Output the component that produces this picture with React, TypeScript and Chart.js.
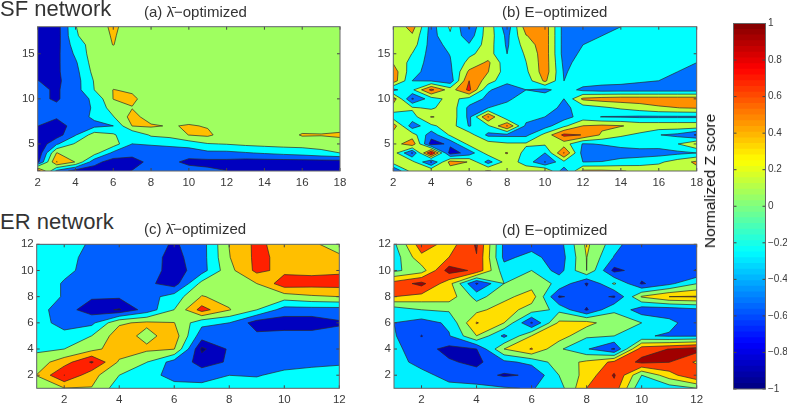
import React, { useEffect, useRef } from "react";
import { Chart, registerables } from "chart.js";
Chart.register(...registerables);

const sfAxis = [2, 3, 4, 5, 6, 7, 8, 9, 10, 11, 12, 13, 14, 15, 16, 17, 18];
const sfRows = [18, 17, 16, 15, 14, 13, 12, 11, 10, 9, 8, 7, 6, 5, 4, 3, 2];
const erAxis = [1, 2, 3, 4, 5, 6, 7, 8, 9, 10, 11, 12];
const erRows = [12, 11, 10, 9, 8, 7, 6, 5, 4, 3, 2, 1];
const sfTicksX = [2, 4, 6, 8, 10, 12, 14, 16, 18];
const sfTicksY = [5, 10, 15];
const erTicksX = [2, 4, 6, 8, 10, 12];
const erTicksY = [2, 4, 6, 8, 10, 12];
const barTicks = [-1, -0.8, -0.6, -0.4, -0.2, 0, 0.2, 0.4, 0.6, 0.8, 1];
const levels = [-0.714, -0.429, -0.143, 0.143, 0.429, 0.714];
const levelsC = [-0.93, -0.714, -0.429, -0.143, 0.143, 0.429, 0.714];

const coloursA = ["#0000bf", "#0060ff", "#00ffff", "#9fff60", "#ffbf00", "#ff2000", "#800000"];
const coloursB = ["#0000cf", "#0070ff", "#00ffff", "#bfff40", "#ff9000", "#ff1000", "#900000"];
const coloursC = ["#00007f", "#0000bf", "#0060ff", "#00ffff", "#9fff60", "#ffbf00", "#ff2000", "#800000"];
const coloursD = ["#0000b0", "#0050ff", "#00f0ff", "#8fff70", "#ffdf00", "#ff4000", "#a00000"];

const zA = [
  [-.9,-.85,-.15,0,.2,0,0,0,0,0,0,0,0,0,0,0,0],
  [-.9,-.85,-.17,0,.17,0,0,0,0,0,0,0,0,0,0,0,0],
  [-.9,-.82,-.28,-.02,.15,0,0,0,0,0,0,0,0,0,0,0,0],
  [-.9,-.79,-.38,.02,0,0,0,0,0,0,0,0,0,0,0,0,0],
  [-.9,-.77,-.47,0,0,0,0,0,0,0,0,0,0,0,0,0,0],
  [-.9,-.76,-.52,-.05,0,0,0,0,0,0,0,0,0,0,0,0,0],
  [-.71,-.77,-.55,-.12,0,0,0,0,0,0,0,0,0,0,0,0,0],
  [-.65,-.75,-.55,-.14,.15,.1,0,0,0,0,0,0,0,0,0,0,0],
  [-.65,-.75,-.55,-.38,.15,.2,0,0,0,0,0,0,0,0,0,0,0],
  [-.6,-.65,-.55,-.4,0,.13,0,0,0,0,0,0,0,0,0,0,0],
  [-.6,-.68,-.55,-.38,-.16,.25,0,0,0,0,0,0,0,0,0,0,0],
  [-.71,-.85,-.6,-.5,-.43,.15,.18,.12,.17,.12,0,0,0,0,0,0,0],
  [-.9,-.85,-.45,0,-.1,-.4,-.1,-.05,.15,.2,0,0,0,0,.17,.16,.2],
  [-.95,-.47,-.1,.05,0,-.43,-.4,-.36,-.3,-.16,-.13,-.08,-.05,-.03,-.03,-.02,0],
  [-.95,.15,.02,-.03,-.5,-.6,-.6,-.6,-.6,-.5,-.5,-.45,-.4,-.35,-.3,-.22,-.143],
  [-.8,.44,.13,-.62,-.85,-.85,-.62,-.65,-.78,-.8,-.8,-.85,-.85,-.85,-.85,-.85,-.85],
  [.6,-.5,-.85,-.85,-.9,-.7,-.55,-.55,-.6,-.65,-.71,-.85,-.85,-.85,-.85,-.85,-.85],
];
const zB = [
  [-.1,.27,-.55,-.1,-.75,.05,-.6,.3,.3,-.55,-.55,-.55,-.43,-.3,-.3,-.3,-.3],
  [0,.1,-.55,-.18,-.6,.03,-.5,.13,.3,-.55,-.55,-.43,-.3,-.3,-.3,-.3,-.3],
  [.1,0,-.55,-.35,-.4,0,-.47,0,.3,-.55,-.43,-.35,-.3,-.3,-.3,-.3,-.3],
  [.1,-.15,-.55,-.42,-.2,-.02,-.43,-.1,.3,-.55,-.38,-.3,-.29,-.29,-.29,-.29,-.29],
  [.12,-.25,-.55,-.45,-.05,.2,-.35,-.15,.3,-.5,-.33,-.29,-.29,-.29,-.29,-.35,-.43],
  [.3,-.33,-.55,-.5,.2,.15,-.3,-.2,.3,-.46,-.3,-.29,-.29,-.29,-.32,-.43,-.55],
  [.3,-.43,-.45,-.6,.43,0,-.37,-.3,.2,-.43,-.29,-.32,-.35,-.4,-.43,-.55,-.6],
  [-.5,-.2,.5,0,.5,-.4,-.55,-.43,-.5,-.29,-.5,-.55,-.55,-.55,-.55,-.55,-.55],
  [.3,-.75,-.27,-.05,-.25,-.5,-.5,-.25,-.29,-.43,.2,.27,.3,.3,.3,.3,.3],
  [0,-.1,-.2,.05,-.5,-.43,-.3,-.29,-.3,-.5,-.3,-.2,-.1,0,.1,.14,.17],
  [-.29,-.25,.16,.05,-.5,.45,-.4,-.3,-.43,-.55,-.3,-.44,-.45,-.47,-.47,-.47,-.47],
  [.3,-.6,-.2,0,-.45,-.2,.45,-.5,-.55,-.2,.15,.2,.16,.05,.05,.05,.05],
  [0,0,-.6,-.1,0,-.5,-.5,-.5,-.05,.5,.42,.1,-.1,-.2,-.42,-.5,-.75],
  [0,.33,-.85,-.65,-.05,0,-.1,-.1,-.1,0,-.45,-.41,-.35,-.29,-.3,-.15,.15],
  [0,-.75,.75,-.85,-.6,0,.16,-.25,-.43,.45,-.55,-.6,-.55,-.55,-.55,-.5,-.43],
  [0,-.05,-.75,.25,.13,-.55,0,-.25,-.73,-.2,-.43,-.42,-.35,-.3,-.2,0,.2],
  [-.75,0,.1,0,0,.17,0,0,.15,-.6,.2,.2,.16,.1,.05,.05,.05],
];
const zC = [
  [-.29,-.29,-.47,-.57,-.57,-.75,-.55,.15,.5,.3,.2,0],
  [-.29,-.3,-.55,-.57,-.6,-.8,-.55,.13,.5,.35,.3,.2],
  [-.29,-.38,-.5,-.57,-.55,-.85,-.55,.05,.5,.35,.35,.38],
  [-.29,-.45,-.55,-.6,-.65,-.85,-.05,0,.143,.6,.55,.55],
  [-.29,-.45,-.68,-.68,-.55,-.3,.16,.05,.1,0,.1,.143],
  [-.3,-.6,-.85,-.95,-.6,-.14,.55,.16,-.14,-.55,-.55,-.55],
  [-.35,-.5,-.5,.1,.2,.15,-.35,-.43,-.85,-.87,-.87,-.75],
  [-.3,-.37,-.14,.3,.05,.3,-.6,-.65,-.65,-.6,-.6,-.6],
  [-.2,-.143,.05,.3,.2,.15,-.98,-.68,-.6,-.6,-.6,-.6],
  [0,.3,.75,.1,-.14,-.55,-.8,-.69,-.6,-.55,-.5,-.47],
  [.15,.72,.25,-.143,-.3,-.55,-.6,-.43,-.45,-.35,-.32,-.3],
  [0,.13,.13,-.3,-.3,-.3,-.3,-.29,-.29,-.29,-.29,-.29],
];
const zD = [
  [-.2,.6,.3,.75,-.5,-.55,-.55,.2,-.3,-.72,-.57,-.57],
  [-.3,.35,.43,.7,-.5,-.33,-.6,.15,-.45,-.57,-.57,-.57],
  [-.2,0,.85,.65,-.3,-.143,-.55,.143,-.8,-.57,-.57,-.73],
  [.55,.8,.25,-.75,-.143,0,-.2,-.75,-.1,-.75,-.5,-.15],
  [.43,.33,.3,-.25,.05,.3,-.75,-.57,-.75,.17,.43,.45],
  [-.3,-.143,-.1,.05,.3,0,-.22,-.75,-.17,-.6,-.6,-.5],
  [-.43,-.55,-.38,.45,.143,-.75,.2,.25,-.05,-.143,-.35,-.6],
  [-.4,-.725,-.45,.14,-.5,.15,.3,-.1,-.143,-.4,-.46,-.45],
  [-.35,-.6,-.8,-.72,.143,.45,-.1,-.4,-.75,.6,.72,.85],
  [-.29,-.55,-.68,-.78,-.5,-.35,0,.2,.5,.78,.72,.38],
  [-.29,-.32,-.55,-.6,-.75,-.68,-.14,.25,.75,-.143,.3,.72],
  [-.29,-.29,-.32,-.35,-.4,-.45,-.28,.43,.6,-.4,-.3,-.15],
];

const FONT = '"Liberation Sans", Arial, sans-serif';
const INK = "#3a3a3a";

type Pt = [number, number];

function clipCell(c: { p: Pt; v: number }[], lv: number, avg: number) {
  const cross = (a: { p: Pt; v: number }, b: { p: Pt; v: number }): Pt => {
    const t = (lv - a.v) / (b.v - a.v);
    return [a.p[0] + t * (b.p[0] - a.p[0]), a.p[1] + t * (b.p[1] - a.p[1])];
  };
  const inside = c.map((k) => k.v >= lv);
  const crossings: Pt[] = [];
  for (let i = 0; i < 4; i++) if (inside[i] !== inside[(i + 1) % 4]) crossings.push(cross(c[i], c[(i + 1) % 4]));
  const polys: Pt[][] = [];
  const segs: [Pt, Pt][] = [];
  if (crossings.length === 0) {
    if (inside[0]) polys.push(c.map((k) => k.p));
    return { polys, segs };
  }
  if (crossings.length === 4 && avg < lv) {
    for (let i = 0; i < 4; i++) {
      if (!inside[i]) continue;
      const a = c[i], n = c[(i + 1) % 4], m = c[(i + 3) % 4];
      const p1 = cross(m, a), p2 = cross(a, n);
      polys.push([p1, a.p, p2]);
      segs.push([p1, p2]);
    }
    return { polys, segs };
  }
  const poly: Pt[] = [];
  const order: Pt[] = [];
  for (let i = 0; i < 4; i++) {
    const a = c[i], b = c[(i + 1) % 4];
    if (inside[i]) poly.push(a.p);
    if (inside[i] !== inside[(i + 1) % 4]) {
      const q = cross(a, b);
      poly.push(q);
      order.push(q);
    }
  }
  polys.push(poly);
  if (order.length === 2) segs.push([order[0], order[1]]);
  else if (inside[0]) {
    segs.push([order[0], order[1]]);
    segs.push([order[2], order[3]]);
  } else {
    segs.push([order[3], order[0]]);
    segs.push([order[1], order[2]]);
  }
  return { polys, segs };
}

function contourPlugin(xs: number[], ys: number[], z: number[][], lv: number[], colours: string[]) {
  return {
    id: "contour",
    beforeDatasetsDraw(chart: any) {
      const { ctx, chartArea: A, scales } = chart;
      const X = (v: number) => scales.x.getPixelForValue(v);
      const Y = (v: number) => scales.y.getPixelForValue(v);
      ctx.save();
      ctx.beginPath();
      ctx.rect(A.left, A.top, A.right - A.left, A.bottom - A.top);
      ctx.clip();
      ctx.fillStyle = colours[0];
      ctx.fillRect(A.left, A.top, A.right - A.left, A.bottom - A.top);
      const lines: [Pt, Pt][] = [];
      lv.forEach((L, li) => {
        const path = new Path2D();
        for (let r = 0; r < ys.length - 1; r++) {
          for (let k = 0; k < xs.length - 1; k++) {
            const c = [
              { p: [X(xs[k]), Y(ys[r])] as Pt, v: z[r][k] },
              { p: [X(xs[k + 1]), Y(ys[r])] as Pt, v: z[r][k + 1] },
              { p: [X(xs[k + 1]), Y(ys[r + 1])] as Pt, v: z[r + 1][k + 1] },
              { p: [X(xs[k]), Y(ys[r + 1])] as Pt, v: z[r + 1][k] },
            ];
            const avg = (c[0].v + c[1].v + c[2].v + c[3].v) / 4;
            const { polys, segs } = clipCell(c, L, avg);
            polys.forEach((poly) => {
              poly.forEach((q, i) => (i ? path.lineTo(q[0], q[1]) : path.moveTo(q[0], q[1])));
              path.closePath();
            });
            lines.push(...segs);
          }
        }
        ctx.fillStyle = colours[li + 1];
        ctx.fill(path);
      });
      ctx.strokeStyle = "#2a2a2a";
      ctx.lineWidth = 0.7;
      ctx.beginPath();
      lines.forEach(([a, b]) => {
        ctx.moveTo(a[0], a[1]);
        ctx.lineTo(b[0], b[1]);
      });
      ctx.stroke();
      ctx.restore();
    },
  };
}

const framePlugin = {
  id: "frame",
  afterDraw(chart: any) {
    const { ctx, chartArea: A, scales } = chart;
    ctx.save();
    ctx.strokeStyle = "#444";
    ctx.lineWidth = 1;
    ctx.beginPath();
    if (scales.x.type !== "category") {
      scales.x.ticks.forEach((t: any) => {
        const p = scales.x.getPixelForValue(t.value);
        ctx.moveTo(p, A.bottom);
        ctx.lineTo(p, A.bottom - 3);
        ctx.moveTo(p, A.top);
        ctx.lineTo(p, A.top + 3);
      });
    }
    scales.y.ticks.forEach((t: any) => {
      const p = scales.y.getPixelForValue(t.value);
      ctx.moveTo(A.left, p);
      ctx.lineTo(A.left + 3, p);
      ctx.moveTo(A.right, p);
      ctx.lineTo(A.right - 3, p);
    });
    ctx.stroke();
    ctx.strokeStyle = "#666";
    ctx.strokeRect(A.left, A.top, A.right - A.left, A.bottom - A.top);
    ctx.restore();
  },
};

const fmt = (v: number) => String(v).replace("-", "\u2212");

function axis(min: number, max: number, ticks: number[], pos: string, size: number, pad: number, fontSize: number) {
  return {
    type: "linear",
    position: pos,
    min,
    max,
    grid: { display: false, drawTicks: false },
    border: { display: false },
    ticks: {
      autoSkip: false,
      maxRotation: 0,
      padding: pad,
      color: INK,
      font: { family: FONT, size: fontSize },
      callback: (v: number) => fmt(v),
    },
    afterBuildTicks: (s: any) => {
      s.ticks = ticks.map((value) => ({ value }));
    },
    afterFit: (s: any) => {
      if (pos === "bottom") s.height = size;
      else s.width = size;
    },
  };
}

type Rect = { l: number; r: number; t: number; b: number };

function Contour({ rect, xs, ys, z, lv, colours, tx, ty }: {
  rect: Rect; xs: number[]; ys: number[]; z: number[][]; lv: number[]; colours: string[]; tx: number[]; ty: number[];
}) {
  const ref = useRef<HTMLCanvasElement>(null);
  const left = Math.floor(rect.l) - 34;
  const top = Math.floor(rect.t) - 10;
  const width = Math.ceil(rect.r) - left + 14;
  const height = Math.ceil(rect.b) - top + 22;
  useEffect(() => {
    const data: any[] = [];
    ys.forEach((y, r) => xs.forEach((x, k) => data.push({ x, y, z: z[r][k] })));
    const bottomH = height - (rect.b - top);
    const chart = new Chart(ref.current as any, {
      type: "scatter",
      data: { datasets: [{ data, pointRadius: 0 }] },
      options: {
        animation: false,
        responsive: false,
        devicePixelRatio: 1,
        layout: { padding: { top: rect.t - top, right: width - (rect.r - left), left: 0, bottom: 0 } },
        plugins: { legend: { display: false }, tooltip: { enabled: false } },
        scales: {
          x: axis(xs[0], xs[xs.length - 1], tx, "bottom", bottomH, 5, 11.5),
          y: axis(Math.min(...ys), Math.max(...ys), ty, "left", rect.l - left, 3, 11.5),
        },
      } as any,
      plugins: [contourPlugin(xs, ys, z, lv, colours), framePlugin] as any,
    });
    return () => chart.destroy();
  }, []);
  return <canvas ref={ref} width={width} height={height} style={{ position: "absolute", left, top, width, height }} />;
}

function jet(t: number) {
  const c = (x: number) => Math.round(255 * Math.max(0, Math.min(1, 1.5 - Math.abs(4 * t - x))));
  return `rgb(${c(3)},${c(2)},${c(1)})`;
}

const BAR_STEPS = 64;

function ColourBar({ rect }: { rect: Rect }) {
  const ref = useRef<HTMLCanvasElement>(null);
  const left = Math.floor(rect.l) - 2;
  const top = Math.floor(rect.t) - 10;
  const width = 787 - left;
  const height = Math.ceil(rect.b) - top + 12;
  useEffect(() => {
    const datasets = Array.from({ length: BAR_STEPS }, (_, i) => ({
      data: [[-1, -1 + (2 * (i + 1)) / BAR_STEPS]],
      backgroundColor: jet((i + 0.5) / BAR_STEPS),
      borderWidth: 0,
      barPercentage: 1,
      categoryPercentage: 1,
      grouped: false,
    }));
    const chart = new Chart(ref.current as any, {
      type: "bar",
      data: { labels: ["z"], datasets },
      options: {
        animation: false,
        responsive: false,
        devicePixelRatio: 1,
        layout: { padding: { top: rect.t - top, bottom: top + height - rect.b, left: rect.l - left, right: 0 } },
        plugins: { legend: { display: false }, tooltip: { enabled: false } },
        scales: {
          x: { type: "category", display: false },
          y: axis(-1, 1, barTicks, "right", left + width - rect.r, 2.5, 10),
        },
      } as any,
      plugins: [framePlugin] as any,
    });
    return () => chart.destroy();
  }, []);
  return <canvas ref={ref} width={width} height={height} style={{ position: "absolute", left, top, width, height }} />;
}

function Label({ x, y, size, children }: { x: number; y: number; size: number; children: React.ReactNode }) {
  return (
    <div style={{ position: "absolute", left: x, top: y, fontFamily: FONT, fontSize: size, lineHeight: 1, color: "#333", whiteSpace: "nowrap" }}>
      {children}
    </div>
  );
}

export default function App() {
  return (
    <div style={{ position: "fixed", left: 0, top: 0, width: 787, height: 403, background: "#fff", overflow: "hidden", filter: "blur(0.35px)" }}>
      <Contour rect={{ l: 37.7, r: 340, t: 26.7, b: 171 }} xs={sfAxis} ys={sfRows} z={zA} lv={levels} colours={coloursA} tx={sfTicksX} ty={sfTicksY} />
      <Contour rect={{ l: 393.3, r: 696.7, t: 26.7, b: 171 }} xs={sfAxis} ys={sfRows} z={zB} lv={levels} colours={coloursB} tx={sfTicksX} ty={sfTicksY} />
      <Contour rect={{ l: 36.7, r: 339.3, t: 244.3, b: 388.3 }} xs={erAxis} ys={erRows} z={zC} lv={levelsC} colours={coloursC} tx={erTicksX} ty={erTicksY} />
      <Contour rect={{ l: 394, r: 696.7, t: 244.3, b: 388.3 }} xs={erAxis} ys={erRows} z={zD} lv={levels} colours={coloursD} tx={erTicksX} ty={erTicksY} />
      <ColourBar rect={{ l: 733.5, r: 765.5, t: 23.5, b: 389 }} />
      <Label x={0} y={-2} size={22}>SF network</Label>
      <Label x={144} y={4} size={15}>(a) λ̄−optimized</Label>
      <Label x={502} y={4} size={15}>(b) E−optimized</Label>
      <Label x={0} y={211} size={22}>ER network</Label>
      <Label x={144} y={221} size={15}>(c) λ̄−optimized</Label>
      <Label x={502} y={222} size={15}>(d) E−optimized</Label>
      <div style={{ position: "absolute", left: 710, top: 181, transform: "translate(-50%,-50%) rotate(-90deg)", fontFamily: FONT, fontSize: 15.5, color: "#111", whiteSpace: "nowrap" }}>
        Normalized Z score
      </div>
    </div>
  );
}
